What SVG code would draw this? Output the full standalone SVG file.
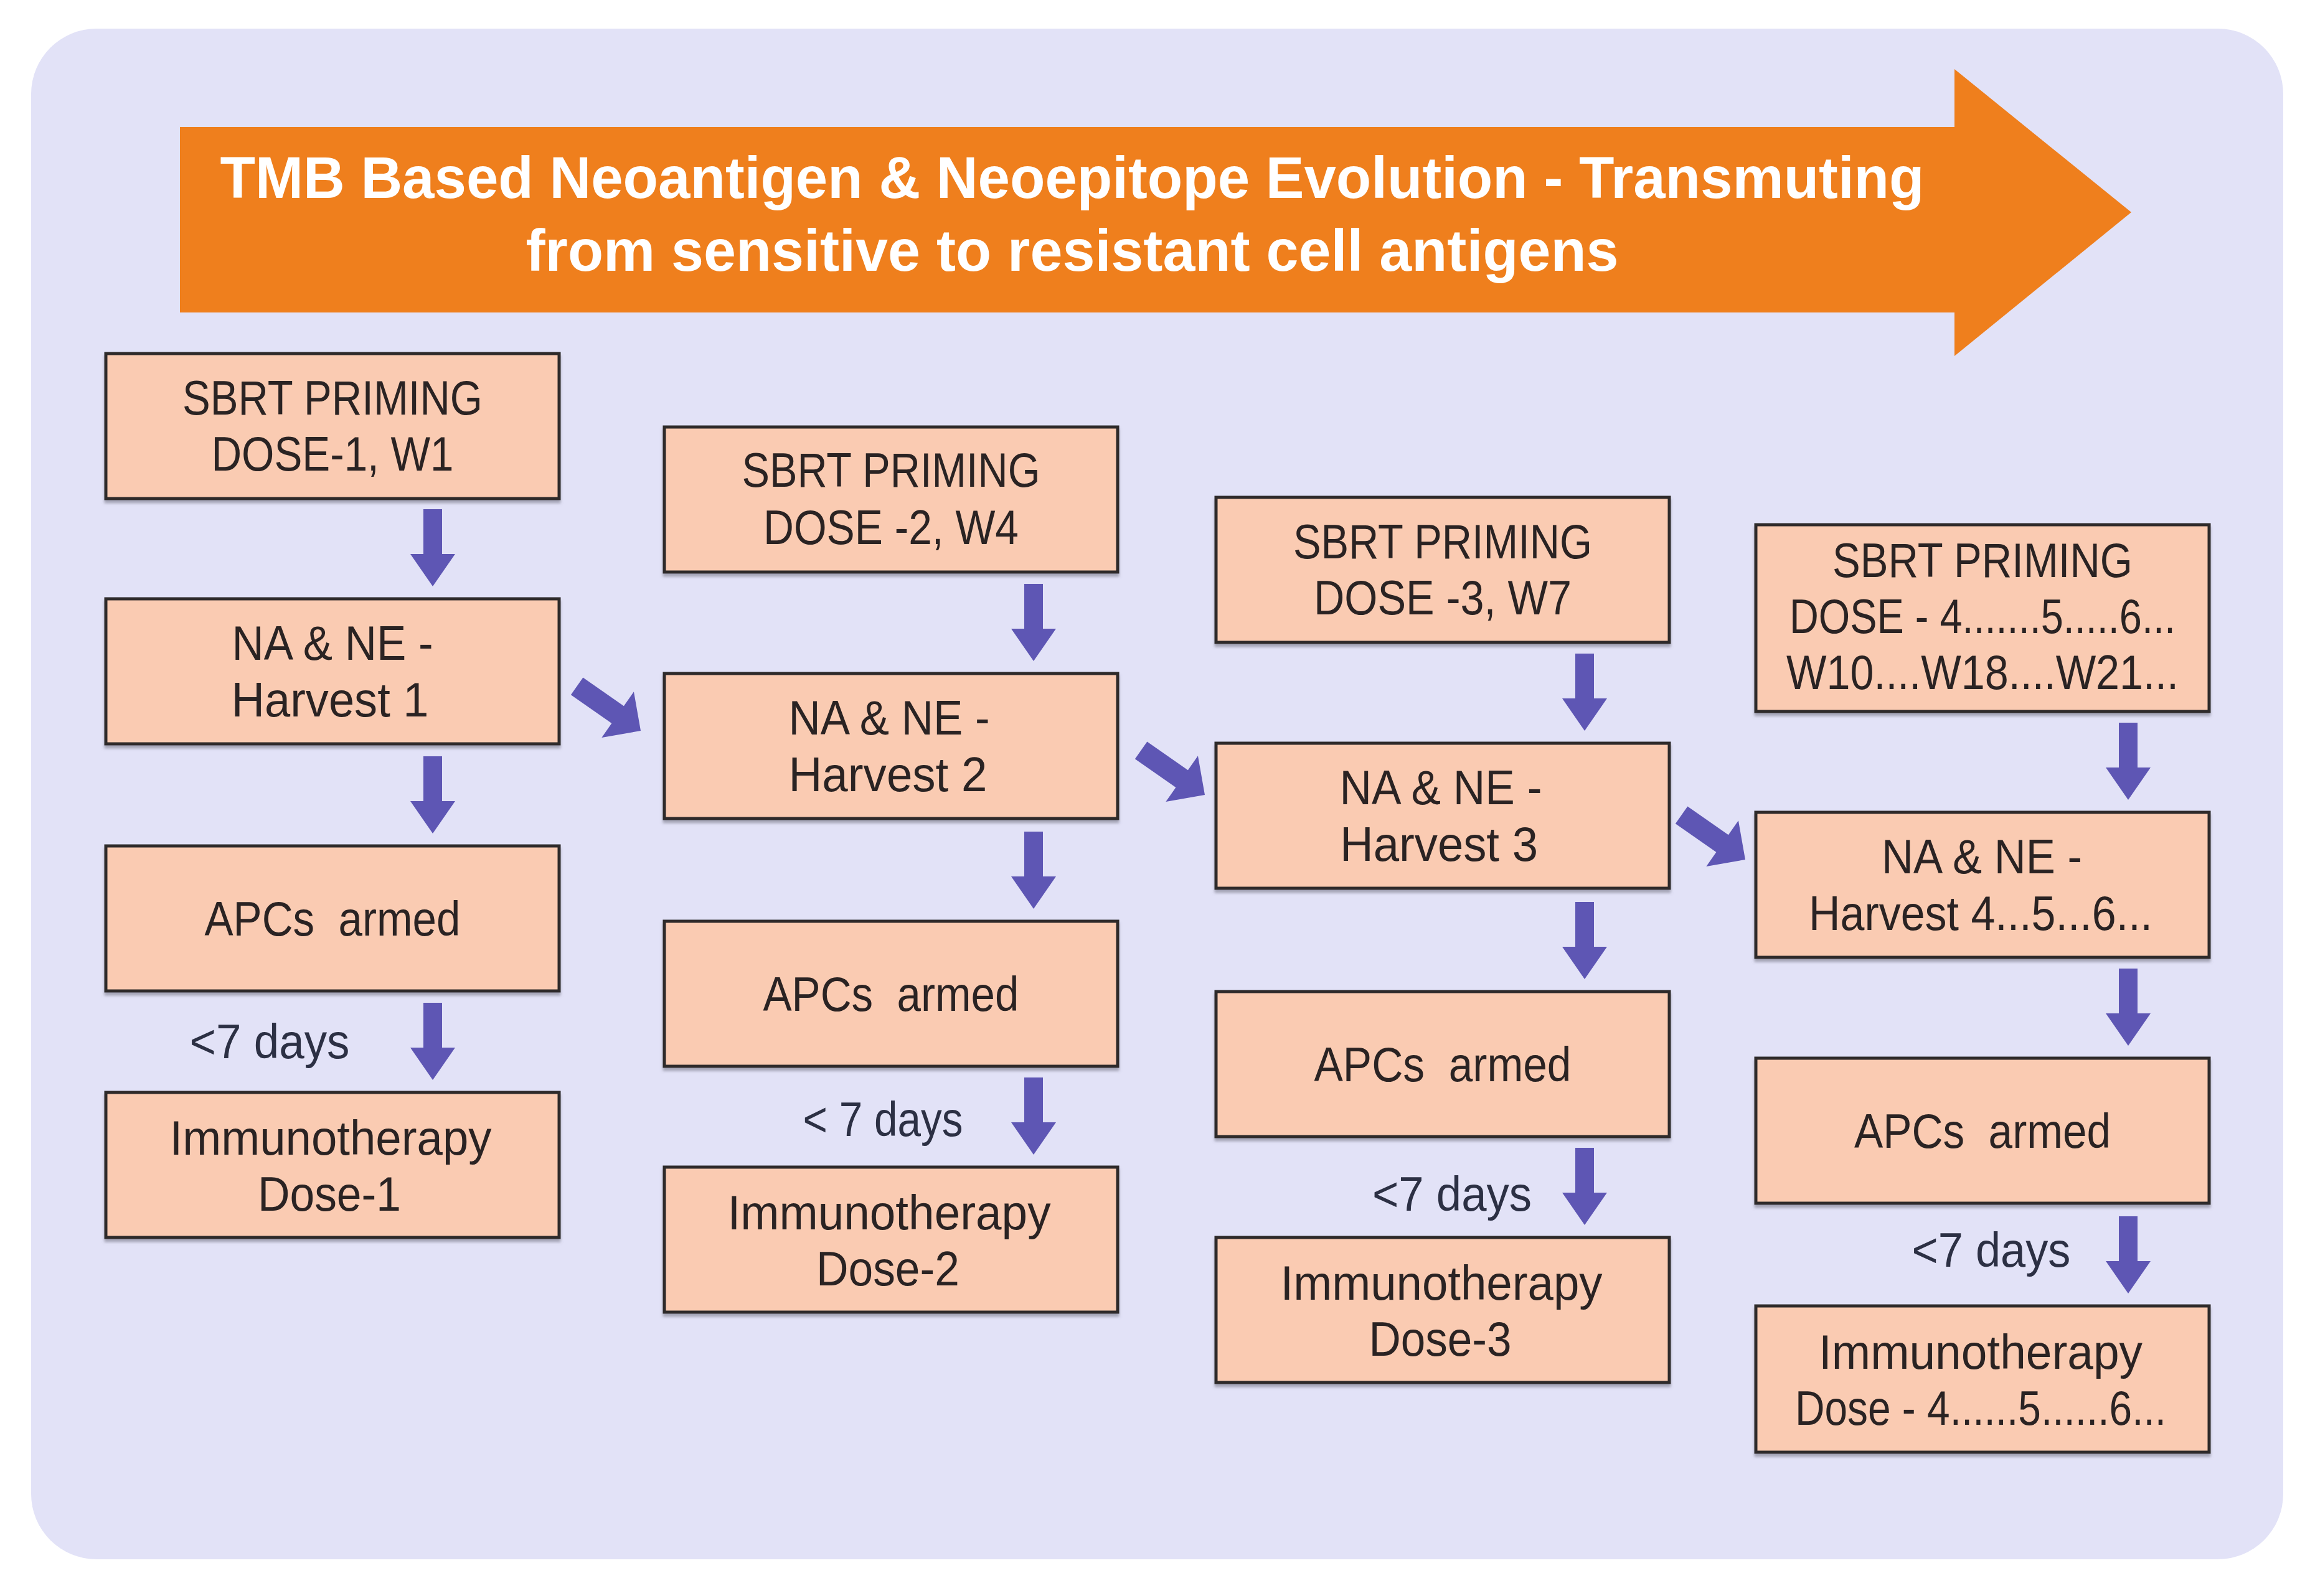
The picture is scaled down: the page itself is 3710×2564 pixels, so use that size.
<svg xmlns="http://www.w3.org/2000/svg" xmlns:xlink="http://www.w3.org/1999/xlink" width="3710" height="2564" viewBox="0 0 3710 2564">
<style>
.bg{fill:#E2E2F7}
.box{fill:#FACBB2;stroke:#2E2A2A;stroke-width:5;filter:url(#sh)}
.t{font-family:"Liberation Sans",Arial,sans-serif;font-size:78px;fill:#2A2323;text-anchor:middle}
.lbl{font-family:"Liberation Sans",Arial,sans-serif;font-size:78px;fill:#2C3044;text-anchor:middle}
.title{font-family:"Liberation Sans",Arial,sans-serif;font-weight:bold;font-size:94px;fill:#FFFFFF;text-anchor:middle}
.arr{fill:#5E56B4}
</style>
<defs>
<filter id="sh" x="-5%" y="-5%" width="110%" height="115%">
<feDropShadow dx="0" dy="5" stdDeviation="2" flood-color="#6F6F80" flood-opacity="0.55"/>
</filter>
<path id="va" d="M0,0 L-36,-52 L-15,-52 L-15,-124 L15,-124 L15,-52 L36,-52 Z"/>
<path id="da" d="M0,0 L-45,-45 L-45,-17 L-125,-17 L-125,17 L-45,17 L-45,45 Z"/>
</defs>
<rect width="3710" height="2564" fill="#FFFFFF"/>
<rect class="bg" x="50" y="46" width="3617" height="2459" rx="105" ry="105"/>

<g id="title-arrow">
<polygon points="289,204 3139,204 3139,111 3423,341 3139,572 3139,502 289,502" fill="#EF7F1D"/>
<text class="title" x="1722" y="318" textLength="2737" lengthAdjust="spacingAndGlyphs">TMB Based Neoantigen &amp; Neoepitope Evolution - Transmuting</text>
<text class="title" x="1722" y="435" textLength="1755" lengthAdjust="spacingAndGlyphs">from sensitive to resistant cell antigens</text>
</g>

<!-- Column 1 -->
<g id="sbrt1"><rect class="box" x="170" y="568" width="728" height="233"/>
<text class="t" x="534" y="666" textLength="482" lengthAdjust="spacingAndGlyphs">SBRT PRIMING</text>
<text class="t" x="534" y="756" textLength="389" lengthAdjust="spacingAndGlyphs">DOSE-1, W1</text></g>
<g id="harvest1"><rect class="box" x="170" y="962" width="728" height="233"/>
<text class="t" x="534" y="1060" textLength="323" lengthAdjust="spacingAndGlyphs">NA &amp; NE -</text>
<text class="t" x="530" y="1151" textLength="317" lengthAdjust="spacingAndGlyphs">Harvest 1</text></g>
<g id="apcs1"><rect class="box" x="170" y="1359" width="728" height="233"/>
<text class="t" x="534" y="1503" textLength="411" lengthAdjust="spacingAndGlyphs" xml:space="preserve">APCs  armed</text></g>
<g id="immuno1"><rect class="box" x="170" y="1755" width="728" height="233"/>
<text class="t" x="531" y="1855" textLength="517" lengthAdjust="spacingAndGlyphs">Immunotherapy</text>
<text class="t" x="529" y="1945" textLength="230" lengthAdjust="spacingAndGlyphs">Dose-1</text></g>

<!-- Column 2 -->
<g id="sbrt2"><rect class="box" x="1067" y="686" width="728" height="233"/>
<text class="t" x="1431" y="782" textLength="479" lengthAdjust="spacingAndGlyphs">SBRT PRIMING</text>
<text class="t" x="1431" y="874" textLength="410" lengthAdjust="spacingAndGlyphs">DOSE -2, W4</text></g>
<g id="harvest2"><rect class="box" x="1067" y="1082" width="728" height="233"/>
<text class="t" x="1428" y="1180" textLength="323" lengthAdjust="spacingAndGlyphs">NA &amp; NE -</text>
<text class="t" x="1426" y="1271" textLength="319" lengthAdjust="spacingAndGlyphs">Harvest 2</text></g>
<g id="apcs2"><rect class="box" x="1067" y="1480" width="728" height="233"/>
<text class="t" x="1431" y="1624" textLength="411" lengthAdjust="spacingAndGlyphs" xml:space="preserve">APCs  armed</text></g>
<g id="immuno2"><rect class="box" x="1067" y="1875" width="728" height="233"/>
<text class="t" x="1428" y="1975" textLength="519" lengthAdjust="spacingAndGlyphs">Immunotherapy</text>
<text class="t" x="1426" y="2065" textLength="230" lengthAdjust="spacingAndGlyphs">Dose-2</text></g>

<!-- Column 3 -->
<g id="sbrt3"><rect class="box" x="1953" y="799" width="728" height="233"/>
<text class="t" x="2317" y="897" textLength="480" lengthAdjust="spacingAndGlyphs">SBRT PRIMING</text>
<text class="t" x="2317" y="987" textLength="414" lengthAdjust="spacingAndGlyphs">DOSE -3, W7</text></g>
<g id="harvest3"><rect class="box" x="1953" y="1194" width="728" height="233"/>
<text class="t" x="2314" y="1292" textLength="325" lengthAdjust="spacingAndGlyphs">NA &amp; NE -</text>
<text class="t" x="2311" y="1383" textLength="318" lengthAdjust="spacingAndGlyphs">Harvest 3</text></g>
<g id="apcs3"><rect class="box" x="1953" y="1593" width="728" height="233"/>
<text class="t" x="2317" y="1737" textLength="413" lengthAdjust="spacingAndGlyphs" xml:space="preserve">APCs  armed</text></g>
<g id="immuno3"><rect class="box" x="1953" y="1988" width="728" height="233"/>
<text class="t" x="2315" y="2088" textLength="517" lengthAdjust="spacingAndGlyphs">Immunotherapy</text>
<text class="t" x="2313" y="2178" textLength="229" lengthAdjust="spacingAndGlyphs">Dose-3</text></g>

<!-- Column 4 -->
<g id="sbrt4"><rect class="box" x="2820" y="843" width="728" height="300"/>
<text class="t" x="3184" y="927" textLength="482" lengthAdjust="spacingAndGlyphs">SBRT PRIMING</text>
<text class="t" x="3184" y="1017" textLength="620" lengthAdjust="spacingAndGlyphs">DOSE - 4.......5.....6...</text>
<text class="t" x="3184" y="1107" textLength="630" lengthAdjust="spacingAndGlyphs">W10....W18....W21...</text></g>
<g id="harvest4"><rect class="box" x="2820" y="1305" width="728" height="233"/>
<text class="t" x="3183" y="1403" textLength="322" lengthAdjust="spacingAndGlyphs">NA &amp; NE -</text>
<text class="t" x="3181" y="1494" textLength="552" lengthAdjust="spacingAndGlyphs">Harvest 4...5...6...</text></g>
<g id="apcs4"><rect class="box" x="2820" y="1700" width="728" height="233"/>
<text class="t" x="3184" y="1844" textLength="412" lengthAdjust="spacingAndGlyphs" xml:space="preserve">APCs  armed</text></g>
<g id="immuno4"><rect class="box" x="2820" y="2098" width="728" height="235"/>
<text class="t" x="3181" y="2199" textLength="520" lengthAdjust="spacingAndGlyphs">Immunotherapy</text>
<text class="t" x="3181" y="2289" textLength="596" lengthAdjust="spacingAndGlyphs">Dose - 4......5......6...</text></g>

<!-- interval labels -->
<g id="labels">
<text class="lbl" x="433" y="1700" textLength="257" lengthAdjust="spacingAndGlyphs">&lt;7 days</text>
<text class="lbl" x="1418" y="1825" textLength="257" lengthAdjust="spacingAndGlyphs">&lt; 7 days</text>
<text class="lbl" x="2332" y="1945" textLength="256" lengthAdjust="spacingAndGlyphs">&lt;7 days</text>
<text class="lbl" x="3198" y="2035" textLength="255" lengthAdjust="spacingAndGlyphs">&lt;7 days</text>
</g>

<g id="connectors" class="arr">
<use href="#va" transform="translate(695,942)"/>
<use href="#va" transform="translate(695,1339)"/>
<use href="#va" transform="translate(695,1735)"/>
<use href="#va" transform="translate(1660,1062)"/>
<use href="#va" transform="translate(1660,1460)"/>
<use href="#va" transform="translate(1660,1855)"/>
<use href="#va" transform="translate(2545,1174)"/>
<use href="#va" transform="translate(2545,1573)"/>
<use href="#va" transform="translate(2545,1968)"/>
<use href="#va" transform="translate(3418,1285)"/>
<use href="#va" transform="translate(3418,1680)"/>
<use href="#va" transform="translate(3418,2078)"/>
<use href="#da" transform="translate(1029,1174) rotate(35)"/>
<use href="#da" transform="translate(1935,1277) rotate(35)"/>
<use href="#da" transform="translate(2803,1381) rotate(35)"/>
</g>
</svg>
